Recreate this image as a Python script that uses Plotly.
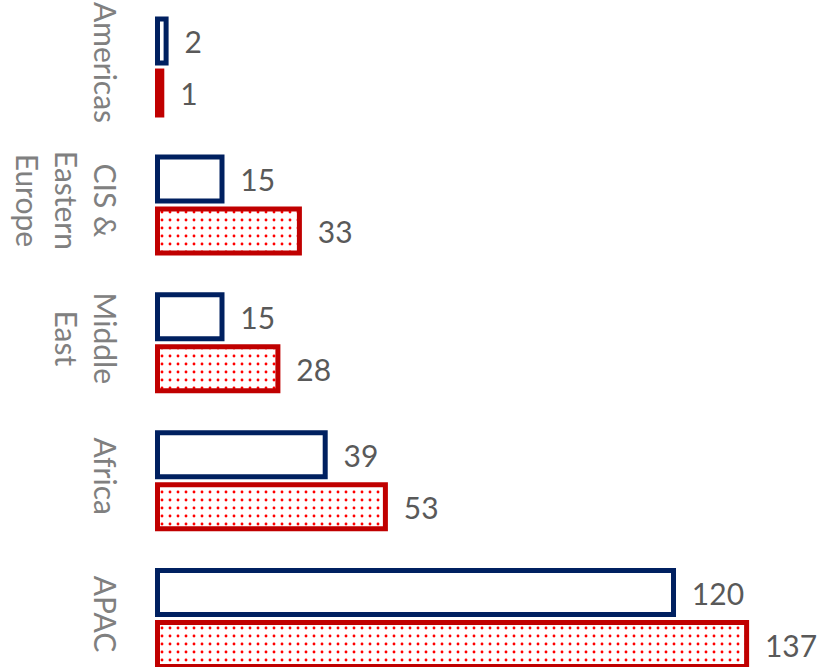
import plotly.graph_objects as go

categories = ["Americas", "CIS &<br>Eastern<br>Europe", "Middle<br>East", "Africa", "APAC"]
series_blue = [2, 15, 15, 39, 120]
series_red = [1, 33, 28, 53, 137]

BLUE = "#002060"
RED = "#C00000"

fig = go.Figure()
fig.add_trace(go.Bar(
    y=categories, x=series_blue, orientation="h", name="Series 1",
    marker=dict(color="white", line=dict(color=BLUE, width=5)),
    text=series_blue, texttemplate="\u00a0\u00a0%{x}", textposition="outside",
    textfont=dict(family="Lato", size=30, color="#595959"),
    constraintext="none", cliponaxis=False,
))
fig.add_trace(go.Bar(
    y=categories, x=series_red, orientation="h", name="Series 2",
    marker=dict(color="white", line=dict(color=RED, width=5),
                pattern=dict(shape=".", fgcolor="#FF0000", bgcolor="white",
                             fgopacity=1, size=8, solidity=0.1)),
    text=series_red, texttemplate="\u00a0\u00a0%{x}", textposition="outside",
    textfont=dict(family="Lato", size=30, color="#595959"),
    constraintext="none", cliponaxis=False,
))

fig.update_layout(
    width=821, height=667,
    margin=dict(l=150, r=0, t=0, b=0),
    paper_bgcolor="white", plot_bgcolor="white",
    barmode="group", bargap=0.246, bargroupgap=0.154,
    showlegend=False,
    font=dict(family="Lato"),
)
fig.update_xaxes(range=[-1.744, 154.3], showticklabels=False, showgrid=False,
                 zeroline=False, showline=False, automargin=False)
fig.update_yaxes(type="category", categoryorder="array", categoryarray=categories,
                 range=[4.351, -0.486], tickangle=90, showgrid=False, zeroline=False,
                 showline=False, automargin=False, ticklabelstandoff=25,
                 tickfont=dict(family="Lato", size=30, color="#808080"))

fig.write_html("out.html")
